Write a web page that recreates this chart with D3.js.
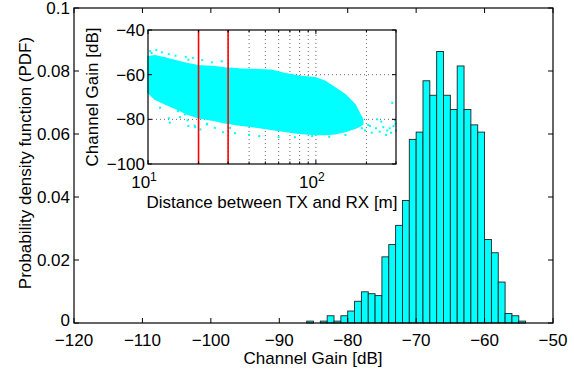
<!DOCTYPE html>
<html>
<head>
<meta charset="utf-8">
<title>Channel Gain PDF</title>
<script src="https://d3js.org/d3.v7.min.js"></script>
<style>
  body { margin: 0; background: #fff; }
  text { font-family: "Liberation Sans", Arial, sans-serif; fill: #000; }
</style>
</head>
<body>
<div id="chart"></div>
<script>
// histogram: 1 dB bins, left edge of each bin
var binStart = [-86, -85, -84, -83, -82, -81, -80, -79, -78, -77, -76, -75, -74, -73, -72, -71,
                -70, -69, -68, -67, -66, -65, -64, -63, -62, -61, -60, -59, -58, -57, -56, -55];
var pdf = [0.0006, 0, 0.0006, 0.0023, 0.0006, 0.0023, 0.0038, 0.0069, 0.0099, 0.0093, 0.0087, 0.0210,
           0.0249, 0.0310, 0.0389, 0.0583, 0.0606, 0.0769, 0.0723, 0.0862, 0.0723, 0.0678, 0.0816,
           0.0678, 0.0629, 0.0606, 0.0265, 0.0223, 0.0130, 0.0030, 0.0023, 0.0006];
var xTicks = [-120, -110, -100, -90, -80, -70, -60, -50];
var yTicks = [0, 0.02, 0.04, 0.06, 0.08, 0.1];

// inset: envelope of the dense scatter cloud
var cloudDist  = [10, 11, 12.6, 15, 17, 20, 25, 28.6, 35, 45, 54, 65, 79, 99, 113, 130, 149, 171, 183, 190];
var cloudUpper = [-52, -51.5, -52.5, -54, -55, -56, -56.5, -57, -57.5, -57.8, -58, -59.5, -60.7, -61.4, -62.9, -65.9, -68.9, -73.4, -77.8, -80];
var cloudLower = [-68, -71, -73, -75.5, -77.5, -79.3, -80.5, -81.5, -82.5, -83.5, -84.5, -85.3, -86.2, -86.8, -86.8, -86.5, -85.5, -84, -83, -82];
// scattered points outside the dense cloud
var sparseDist = [10.3, 10.5, 11.2, 12.1, 12.6, 13.3, 14.6, 16.8, 17.4, 18.5, 21, 24, 27.5, 11, 11.8, 13.5, 15.1, 16.6, 17.4,
                  19.1, 22.4, 25, 30.8, 13.3, 15.5, 17.2, 19, 20.5, 22.5, 28, 33, 40, 46, 60, 75, 95, 120, 150,
                  188, 196, 205, 215, 228, 240, 252, 266, 280, 290, 296, 300, 285, 262, 232, 210, 245, 275, 298];
var sparseGain = [-49.5, -50.3, -49, -50, -52.5, -50.8, -51.5, -52, -53.3, -52.5, -53.5, -54.5, -54, -68.9, -74.8, -81.5, -76.3, -77.8, -83,
                  -83.5, -82.3, -83.8, -83.8, -79.5, -79, -80.5, -82.8, -84.5, -82, -85.8, -86.2, -87, -87.5, -88, -88, -87.5, -87.8, -87,
                  -84, -85, -82.5, -86, -84, -85.5, -83.5, -85, -86, -83, -80.5, -85, -72.6, -87, -80, -83, -81, -84, -82];
var insetGainTicks = [-100, -80, -60, -40];
var redLines = [20, 30];

var W = 574, H = 370;
var FS = "17px";
var svg = d3.select("#chart").append("svg").attr("width", W).attr("height", H);

var minus = function (s) { return String(s).replace("-", "\u2212"); };

// ---------- main histogram ----------
var x = d3.scaleLinear().domain([-120, -50]).range([74, 553]);
var y = d3.scaleLinear().domain([0, 0.1]).range([323, 8]);

svg.selectAll(".bar")
  .data(binStart.map(function (b, i) { return { b: b, v: pdf[i] }; }).filter(function (d) { return d.v > 0; }))
  .enter().append("rect")
  .attr("x", function (d) { return x(d.b); })
  .attr("y", function (d) { return y(d.v); })
  .attr("width", function (d) { return x(d.b + 1) - x(d.b); })
  .attr("height", function (d) { return y(0) - y(d.v); })
  .attr("fill", "#00ffff")
  .attr("stroke", "#222")
  .attr("stroke-width", 0.9);

var tl = 5;
var g = svg.append("g");
xTicks.forEach(function (t) {
  g.append("line").attr("x1", x(t)).attr("x2", x(t)).attr("y1", y(0)).attr("y2", y(0) - tl).attr("stroke", "#000");
  g.append("line").attr("x1", x(t)).attr("x2", x(t)).attr("y1", y(0.1)).attr("y2", y(0.1) + tl).attr("stroke", "#000");
  g.append("text").attr("x", x(t)).attr("y", 346).attr("text-anchor", "middle")
    .style("font-size", FS).text(minus(t));
});
yTicks.forEach(function (t) {
  g.append("line").attr("x1", x(-120)).attr("x2", x(-120) + tl).attr("y1", y(t)).attr("y2", y(t)).attr("stroke", "#000");
  g.append("line").attr("x1", x(-50)).attr("x2", x(-50) - tl).attr("y1", y(t)).attr("y2", y(t)).attr("stroke", "#000");
  g.append("text").attr("x", x(-120) - 4).attr("y", y(t) + (t === 0 ? 3 : 6)).attr("text-anchor", "end")
    .style("font-size", FS).text(t === 0.1 ? "0.1" : (t === 0 ? "0" : d3.format(".2f")(t)));
});
g.append("rect").attr("x", x(-120)).attr("y", y(0.1)).attr("width", x(-50) - x(-120)).attr("height", y(0) - y(0.1))
  .attr("fill", "none").attr("stroke", "#000").attr("stroke-width", 1.2);

svg.append("text").attr("x", 313).attr("y", 364).attr("text-anchor", "middle")
  .style("font-size", FS).text("Channel Gain [dB]");
svg.append("text").attr("transform", "translate(31,163) rotate(-90)").attr("text-anchor", "middle")
  .style("font-size", FS).text("Probability density function (PDF)");

// ---------- inset scatter ----------
var ix = d3.scaleLog().domain([10, 300]).range([148, 396]);
var iy = d3.scaleLinear().domain([-100, -40]).range([164, 30]);
var ins = svg.append("g");
ins.append("rect").attr("x", 148).attr("y", 30).attr("width", 248).attr("height", 134).attr("fill", "#fff");

var minorTicks = [20, 30, 40, 50, 60, 70, 80, 90, 100, 200];
minorTicks.forEach(function (t) {
  ins.append("line").attr("x1", ix(t)).attr("x2", ix(t)).attr("y1", iy(-100)).attr("y2", iy(-40))
    .attr("stroke", "#444").attr("stroke-width", 0.8).attr("stroke-dasharray", "1,3");
});
[-80, -60].forEach(function (t) {
  ins.append("line").attr("x1", ix(10)).attr("x2", ix(300)).attr("y1", iy(t)).attr("y2", iy(t))
    .attr("stroke", "#444").attr("stroke-width", 0.8).attr("stroke-dasharray", "1,3");
});

var cloud = d3.area()
  .x(function (d) { return ix(d.d); })
  .y0(function (d) { return iy(d.lo); })
  .y1(function (d) { return iy(d.hi); });
ins.append("path")
  .datum(cloudDist.map(function (d, i) { return { d: d, hi: cloudUpper[i], lo: cloudLower[i] }; }))
  .attr("d", cloud).attr("fill", "#00ffff").attr("stroke", "#00ffff").attr("stroke-width", 1.5);

ins.selectAll(".pt")
  .data(sparseDist.map(function (d, i) { return [d, sparseGain[i]]; }))
  .enter().append("rect")
  .attr("x", function (d) { return ix(d[0]) - 1; })
  .attr("y", function (d) { return iy(d[1]) - 1; })
  .attr("width", 2).attr("height", 2).attr("fill", "#00ffff");

redLines.forEach(function (t) {
  ins.append("line").attr("x1", ix(t)).attr("x2", ix(t)).attr("y1", iy(-100)).attr("y2", iy(-40))
    .attr("stroke", "#ff0000").attr("stroke-width", 1.6);
});

// inset ticks
var allX = [10, 20, 30, 40, 50, 60, 70, 80, 90, 100, 200, 300];
allX.forEach(function (t) {
  var len = (t === 10 || t === 100) ? 4 : 2.5;
  ins.append("line").attr("x1", ix(t)).attr("x2", ix(t)).attr("y1", 164).attr("y2", 164 - len).attr("stroke", "#000");
  ins.append("line").attr("x1", ix(t)).attr("x2", ix(t)).attr("y1", 30).attr("y2", 30 + len).attr("stroke", "#000");
});
[10, 100].forEach(function (t, i) {
  var tx = ins.append("text").attr("x", ix(t) - 4).attr("y", 188).attr("text-anchor", "middle").style("font-size", FS);
  tx.append("tspan").text("10");
  tx.append("tspan").attr("dy", -7).style("font-size", "12px").text(String(i + 1));
});
insetGainTicks.forEach(function (t) {
  ins.append("line").attr("x1", 148).attr("x2", 152).attr("y1", iy(t)).attr("y2", iy(t)).attr("stroke", "#000");
  ins.append("line").attr("x1", 396).attr("x2", 392).attr("y1", iy(t)).attr("y2", iy(t)).attr("stroke", "#000");
  ins.append("text").attr("x", 145).attr("y", iy(t) + 6).attr("text-anchor", "end").style("font-size", FS).text(minus(t));
});
ins.append("rect").attr("x", 148).attr("y", 30).attr("width", 248).attr("height", 134)
  .attr("fill", "none").attr("stroke", "#000").attr("stroke-width", 1.2);

ins.append("text").attr("x", 272).attr("y", 208).attr("text-anchor", "middle")
  .style("font-size", FS).text("Distance between TX and RX [m]");
ins.append("text").attr("transform", "translate(98,97) rotate(-90)").attr("text-anchor", "middle")
  .style("font-size", FS).text("Channel Gain [dB]");
</script>
</body>
</html>
